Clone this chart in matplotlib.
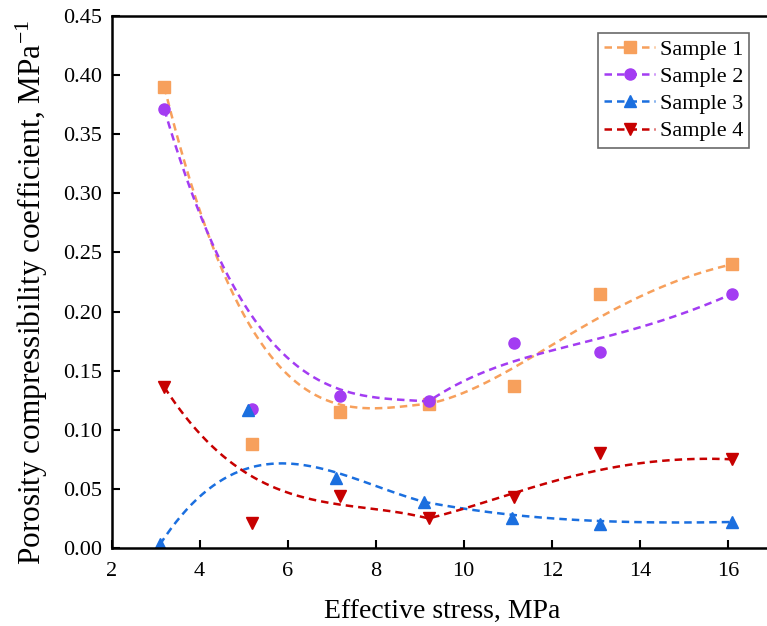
import numpy as np
import matplotlib
matplotlib.use("Agg")
import matplotlib.pyplot as plt

# Effective stress (MPa) at each loading step
stress = [3.2, 5.2, 7.2, 9.2, 11.15, 13.1, 16.1]
stress_s3 = [3.1, 5.1, 7.1, 9.1, 11.1, 13.1, 16.1]

# Porosity compressibility coefficient (1/MPa)
sample1 = [0.390, 0.088, 0.115, 0.122, 0.137, 0.215, 0.240]
sample2 = [0.371, 0.118, 0.129, 0.124, 0.173, 0.166, 0.215]
sample3 = [0.003, 0.117, 0.059, 0.039, 0.025, 0.020, 0.022]
sample4 = [0.136, 0.021, 0.044, 0.025, 0.043, 0.080, 0.075]

labels = ["Sample 1", "Sample 2", "Sample 3", "Sample 4"]
colors = ["#F7A05C", "#A33CF2", "#1B6FDF", "#C70000"]
markers = ["s", "o", "^", "v"]
xs = [stress, stress, stress_s3, stress]
ys = [sample1, sample2, sample3, sample4]


def bezier_chain(px, py, n=150):
    """Connect points with successive cubic Bezier segments (P0..P3, P3..P6, ...)."""
    P = np.column_stack([px, py]).astype(float)
    t = np.linspace(0, 1, n)[:, None]
    w = [(1 - t) ** 3, 3 * t * (1 - t) ** 2, 3 * t ** 2 * (1 - t), t ** 3]
    parts = []
    for s in range(0, len(P) - 3, 3):
        seg = sum(w[j] * P[s + j] for j in range(4))
        parts.append(seg)
    C = np.vstack(parts)
    return C[:, 0], C[:, 1]


plt.rcParams["font.family"] = ["Liberation Serif", "DejaVu Serif"]
plt.rcParams["mathtext.fontset"] = "stix"

fig = plt.figure(figsize=(7.67, 6.26), dpi=100)
ax = fig.add_axes([0.1454, 0.1246, 0.861, 0.8498])

dash = (0, (3, 2))
for x, y, lab, c, m in zip(xs, ys, labels, colors, markers):
    cx, cy = bezier_chain(x, y)
    ax.plot(cx, cy, ls=dash, lw=1.8, color=c)
    ax.plot(x, y, ls="none", marker=m, ms=8, color=c, mec=c)
    # legend entry: dashed line with marker
    ax.plot([], [], ls=dash, lw=1.8, color=c, marker=m, ms=8, label=lab)

ax.set_xlim(2, 17)
ax.set_ylim(0, 0.45)
ax.set_xticks([2, 4, 6, 8, 10, 12, 14, 16])
ax.set_yticks(np.arange(0, 0.451, 0.05))
ax.yaxis.set_major_formatter(matplotlib.ticker.FormatStrFormatter("%.2f"))
ax.tick_params(direction="in", length=6, width=1.5, labelsize=16)
ax.tick_params(axis="x", pad=10)
ax.tick_params(axis="y", pad=7)
for s in ax.spines.values():
    s.set_linewidth(1.8)

ax.set_xlabel("Effective stress, MPa", fontsize=20, labelpad=14)
ax.set_ylabel(r"Porosity compressibility coefficient, MPa$^{\mathregular{-1}}$",
              fontsize=22.5)
ax.yaxis.set_label_coords(-0.093, 0.481)

leg = ax.legend(loc="upper left", bbox_to_anchor=(0.7366, 0.968), fontsize=16,
                frameon=True, fancybox=False, edgecolor="#444444",
                handlelength=2.3, handletextpad=0.2, borderpad=0.28,
                labelspacing=0.3, borderaxespad=0)
leg.get_frame().set_linewidth(1.2)

fig.savefig("out.png", dpi=100)
